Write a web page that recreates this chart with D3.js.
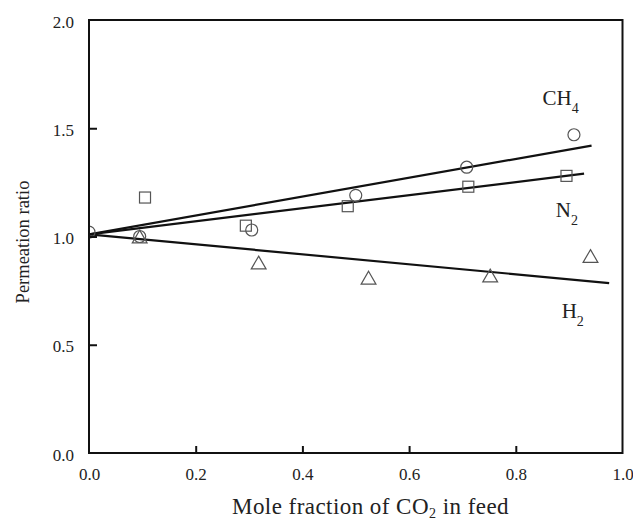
<!DOCTYPE html>
<html>
<head>
<meta charset="utf-8">
<script src="https://cdn.jsdelivr.net/npm/d3@7"></script>
<style>
  html, body { margin: 0; padding: 0; background: #fff; }
  svg { display: block; }
  svg text { font-family: "Liberation Serif", "Times New Roman", serif !important; fill: #222; }
</style>
</head>
<body>
<svg id="chart" width="633" height="521"></svg>
<script>
// ---- data ----
const ch4X = [0.0, 0.095, 0.305, 0.5, 0.708, 0.909];
const ch4Y = [1.02, 1.0, 1.03, 1.19, 1.32, 1.47];
const n2X = [0.105, 0.294, 0.485, 0.711, 0.895];
const n2Y = [1.18, 1.05, 1.14, 1.23, 1.28];
const h2X = [0.095, 0.318, 0.524, 0.752, 0.94];
const h2Y = [0.99, 0.87, 0.80, 0.81, 0.90];
// fitted trend lines (endpoints)
const ch4FitX = [0.0, 0.942], ch4FitY = [1.01, 1.42];
const n2FitX = [0.0, 0.928], n2FitY = [1.01, 1.29];
const h2FitX = [0.0, 0.975], h2FitY = [1.01, 0.785];
const xTicks = [0.0, 0.2, 0.4, 0.6, 0.8, 1.0];
const yTicks = [0.0, 0.5, 1.0, 1.5, 2.0];
const xTitle = "Mole fraction of CO";
const yTitle = "Permeation ratio";

// ---- layout ----
const FONT = '"Liberation Serif", "Times New Roman", serif';
const svg = d3.select("#chart");
const L = 89, R = 622.5, T = 20, B = 453;
const x = d3.scaleLinear().domain([0, 1]).range([L, R]);
const y = d3.scaleLinear().domain([0, 2]).range([B, T]);

svg.append("defs").append("clipPath").attr("id", "plotclip")
  .append("rect").attr("x", L).attr("y", T).attr("width", R - L).attr("height", B - T);

const plot = svg.append("g").attr("clip-path", "url(#plotclip)");

// trend lines
const line = d3.line().x(d => x(d[0])).y(d => y(d[1]));
[[ch4FitX, ch4FitY], [n2FitX, n2FitY], [h2FitX, h2FitY]].forEach(([xs, ys]) => {
  plot.append("path").datum(xs.map((v, i) => [v, ys[i]]))
    .attr("d", line).attr("fill", "none").attr("stroke", "#111").attr("stroke-width", 2.2);
});

const mk = "#555";
// squares
plot.selectAll(".sq").data(n2X.map((v, i) => [v, n2Y[i]])).enter().append("rect")
  .attr("x", d => x(d[0]) - 5.5).attr("y", d => y(d[1]) - 5.5)
  .attr("width", 11).attr("height", 11)
  .attr("fill", "none").attr("stroke", mk).attr("stroke-width", 1.2);
// triangles
const tri = d3.symbol().type(d3.symbolTriangle).size(95);
plot.selectAll(".tr").data(h2X.map((v, i) => [v, h2Y[i]])).enter().append("path")
  .attr("d", tri).attr("transform", d => `translate(${x(d[0])},${y(d[1])})`)
  .attr("fill", "none").attr("stroke", mk).attr("stroke-width", 1.2);
// circles
plot.selectAll(".ci").data(ch4X.map((v, i) => [v, ch4Y[i]])).enter().append("circle")
  .attr("cx", d => x(d[0])).attr("cy", d => y(d[1])).attr("r", 6)
  .attr("fill", "none").attr("stroke", mk).attr("stroke-width", 1.2);

// frame
svg.append("rect").attr("x", L).attr("y", T).attr("width", R - L).attr("height", B - T)
  .attr("fill", "none").attr("stroke", "#111").attr("stroke-width", 2);

// axes
const yAxis = d3.axisLeft(y).tickValues(yTicks).tickSize(-8).tickPadding(15).tickFormat(d3.format(".1f"));
const gy = svg.append("g").attr("transform", `translate(${L},0)`).call(yAxis);
const xAxis = d3.axisBottom(x).tickValues(xTicks).tickSize(-7).tickPadding(15).tickFormat(d3.format(".1f"));
const gx = svg.append("g").attr("transform", `translate(0,${B})`).call(xAxis);
[gx, gy].forEach(g => {
  g.attr("font-family", FONT).attr("font-size", 17);
  g.select(".domain").remove();
  g.selectAll(".tick line").attr("stroke", "#111").attr("stroke-width", 2);
  g.selectAll(".tick text").style("font-family", FONT).style("font-size", "17px").attr("fill", "#222");
});
gy.selectAll(".tick text").attr("dy", "0.42em");
gy.selectAll(".tick").filter(d => d === 0 || d === 2).select("line").remove();
gx.selectAll(".tick").filter(d => d === 0 || d === 1).select("line").remove();

// axis titles
const xt = svg.append("text").attr("x", 232).attr("y", 514)
  .style("font-family", FONT).style("font-size", "23px").style("letter-spacing", "0.45px");
xt.append("tspan").text(xTitle);
xt.append("tspan").style("font-size", "14px").attr("dy", 4).text("2");
xt.append("tspan").attr("dy", -4).text(" in feed");

svg.append("text").attr("transform", `translate(29,242) rotate(-90)`)
  .attr("text-anchor", "middle").style("font-family", FONT).style("font-size", "18.5px").text(yTitle);

// gas labels
function gasLabel(main, sub, px, py) {
  const t = svg.append("text").attr("x", x(px)).attr("y", y(py))
    .style("font-family", FONT).style("font-size", "21px");
  t.append("tspan").text(main);
  t.append("tspan").style("font-size", "14px").attr("dy", 8).text(sub);
}
gasLabel("CH", "4", 0.85, 1.607);
gasLabel("N", "2", 0.875, 1.09);
gasLabel("H", "2", 0.886, 0.624);
</script>
</body>
</html>
